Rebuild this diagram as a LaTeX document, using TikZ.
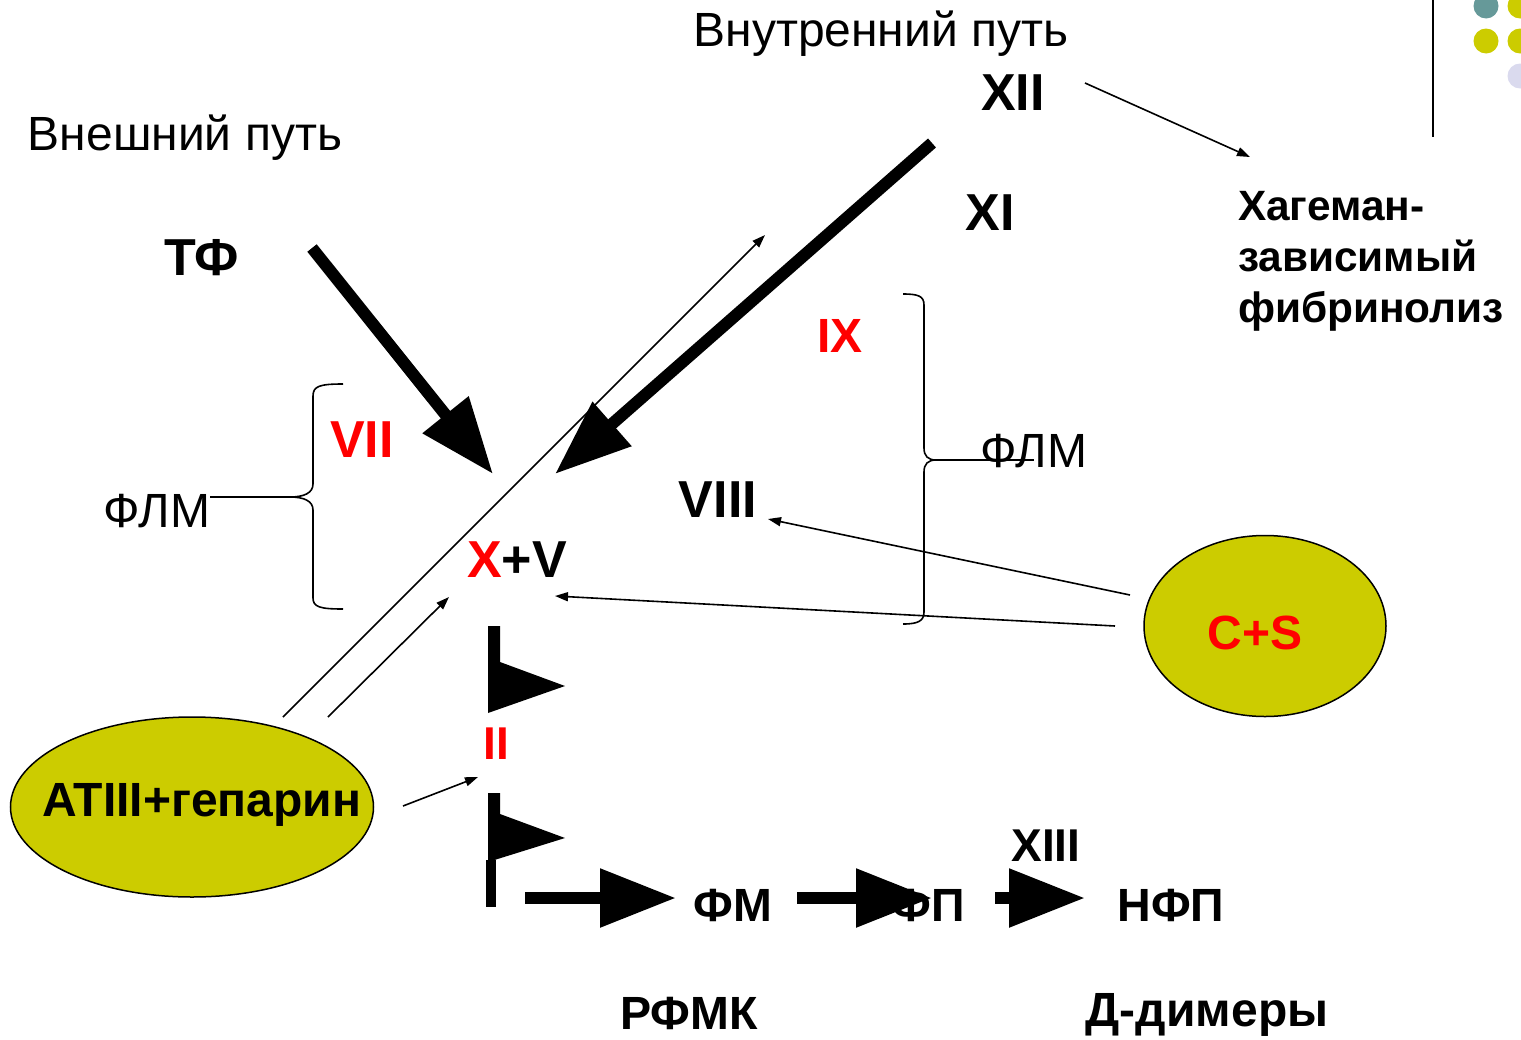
\documentclass[tikz,border=0pt]{standalone}
\usepackage{fontspec}
\setmainfont{Liberation Sans}
\usetikzlibrary{arrows.meta,shapes.geometric}
\definecolor{ellfill}{HTML}{CCCC00}
\definecolor{dotteal}{HTML}{669999}
\definecolor{dotlav}{HTML}{DADAEE}
\begin{document}
\begin{tikzpicture}[x=0.5pt,y=-0.5pt,
 every node/.style={inner sep=0pt, outer sep=0pt},
 reg/.style={font=\fontsize{24}{28}\selectfont},
 bld/.style={font=\fontsize{#1}{#1}\selectfont\bfseries},
 bld/.default=24,
 hagtxt/.style={font=\fontsize{21.2}{25.5}\selectfont\bfseries},
 redtxt/.style={text=red},
 bigarrow/.style={line width=6pt, -{Triangle[length=38pt,width=28pt]}},
 thinarrow/.style={line width=0.8pt, -{Triangle[length=6.5pt,width=4.5pt]}},
 brace/.style={line width=0.8pt},
 ell/.style={ellipse, draw, line width=0.75pt, fill=ellfill},
 flag/.style={fill=black, draw=none}
]
\useasboundingbox (0,0) rectangle (1521,1039);

% decoration top right
\draw[line width=1.3pt] (1433,0) -- (1433,137);
\fill[dotteal] (1486,6) circle (12.5);
\fill[ellfill] (1520,6) circle (12.5);
\fill[ellfill] (1486,41) circle (12.5);
\fill[ellfill] (1520,41) circle (12.5);
\fill[dotlav] (1520,76) circle (12.5);

% ellipses
\node[ell, minimum width=121pt, minimum height=90.5pt] (csE) at (1265,626) {};
\node[ell, minimum width=181.5pt, minimum height=90pt] (atE) at (192,807) {};

% connector end points
\coordinate (tfS) at (312,248);
\coordinate (tfE) at (493,474);
\coordinate (xiiS) at (932,143);
\coordinate (xiiE) at (555,474);
\coordinate (hagS) at (1085,83);
\coordinate (hagE) at (1250,157);
\coordinate (diag1S) at (283,717);
\coordinate (diag1E) at (765,235);
\coordinate (diag2S) at (328,717);
\coordinate (diag2E) at (449,597);
\coordinate (cs1S) at (1130,595);
\coordinate (cs1E) at (768,519);
\coordinate (cs2S) at (1115,626);
\coordinate (cs2E) at (555,596);
\coordinate (atS) at (403,806);
\coordinate (atEnd) at (478,777);
\coordinate (lcusp) at (290,497);
\coordinate (rcusp) at (936,460);
\coordinate (b1S) at (525,898);
\coordinate (b1E) at (676,898);
\coordinate (b2S) at (797,898);
\coordinate (b2E) at (932,898);
\coordinate (b3S) at (995,898);
\coordinate (b3E) at (1085,898);

% bottom chain (under the labels)
\draw[bigarrow] (b1S) -- (b1E);
\draw[bigarrow] (b2S) -- (b2E);
\draw[bigarrow] (b3S) -- (b3E);

% texts
\node[reg, anchor=base] (vnutr) at (881,46) {Внутренний путь};
\node[reg, anchor=base] (vnesh) at (185,150) {Внешний путь};
\node[bld=26, anchor=base] (xii) at (1013,110) {XII};
\node[bld=26, anchor=base] (xi) at (990,230) {XI};
\node[bld=26, anchor=base] (tf) at (202,275) {ТФ};
\node[hagtxt, anchor=north west, align=left] (hag) at (1238,191) {Хагеман-\\зависимый\\фибринолиз};
\node[bld=24, redtxt, anchor=base] (ix) at (840,352) {IX};
\node[bld=26, redtxt, anchor=base] (vii) at (362,457) {VII};
\node[reg, anchor=base] (flmL) at (157,527) {ФЛМ};
\node[reg, anchor=base] (flmR) at (1034,467) {ФЛМ};
\node[bld=26, anchor=base] (viii) at (718,517) {VIII};
\node[bld=26, anchor=base] (xv) at (517,577) {{\color{red}X}+V};
\node[bld=24, redtxt, anchor=base] (cs) at (1255,649) {C+S};
\node[bld=24, anchor=base] (at) at (202,816) {ATIII+гепарин};
\node[bld=23, redtxt, anchor=base] (ii) at (496,759) {II};
\node[bld=23, anchor=base] (xiii) at (1046,861) {XIII};
\node[bld=23.3, anchor=base] (fm) at (733,921) {ФМ};
\node[bld=23.3, anchor=base] (fp) at (928,921) {ФП};
\node[bld=23.3, anchor=base] (nfp) at (1171,921) {НФП};
\node[bld=23.3, anchor=base] (rfmk) at (689,1029) {РФМК};
\node[bld=24, anchor=base] (dd) at (1207,1026) {Д-димеры};

% thick arrows
\draw[bigarrow] (tfS) -- (tfE);
\draw[bigarrow] (xiiS) -- (xiiE);

% thin lines/arrows
\draw[thinarrow] (hagS) -- (hagE);
\draw[thinarrow] (diag1S) -- (diag1E);
\draw[thinarrow] (diag2S) -- (diag2E);
\draw[thinarrow] (cs1S) -- (cs1E);
\draw[thinarrow] (cs2S) -- (cs2E);
\draw[thinarrow] (atS) -- (atEnd);

% braces
\draw[brace] (343,384) .. controls (320,384) and (313,386) .. (313,396) -- (313,484)
  .. controls (313,493) and (304,497) .. (lcusp)
  .. controls (304,497) and (313,501) .. (313,510) -- (313,598)
  .. controls (313,607) and (320,609) .. (343,609);
\draw[brace] (lcusp) -- (lcusp -| flmL.east);
\draw[brace] (903,294) .. controls (918,294) and (924,296) .. (924,305) -- (924,448)
  .. controls (924,456) and (928,460) .. (rcusp)
  .. controls (928,460) and (924,464) .. (924,472) -- (924,612)
  .. controls (924,621) and (918,624) .. (903,624);
\draw[brace] (rcusp) -- (rcusp -| flmR.center);

% flag arrows
\fill[flag] (488,626) -- (500,626) -- (500,662) -- (565,686) -- (488,713) -- cycle;
\fill[flag] (488,793) -- (500,793) -- (500,814) -- (565,838) -- (488,862) -- cycle;
\fill[flag] (486,860) rectangle (496,907);
\end{tikzpicture}
\end{document}
